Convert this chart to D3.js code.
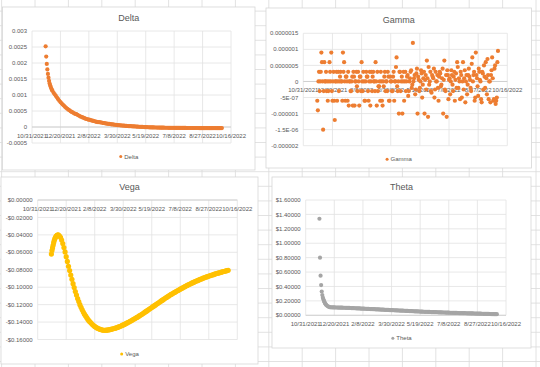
<!DOCTYPE html>
<html>
<head>
<meta charset="utf-8">
<script src="https://cdn.jsdelivr.net/npm/d3@7"></script>
<style>
  body { margin: 0; background: #fff; }
  svg { display: block; }
  text { font-family: "Liberation Sans", Arial, sans-serif; fill: #595959; }
</style>
</head>
<body>
<svg id="sheet" width="540" height="367"></svg>
<script>
// first row of the sheet, the rest are day offsets from it
const startDate = "11/24/2021";
const days = [
  0, 1, 2, 3, 4, 5, 6, 7, 8, 9, 10, 11,
  12, 14, 16, 18, 20, 22, 24, 26, 28, 30,
  32, 34, 36, 38, 40, 42, 44, 46, 48, 50,
  52, 54, 56, 58, 60, 62, 64, 66, 68, 70,
  72, 74, 76, 78, 80, 82, 84, 86, 88, 90,
  92, 94, 96, 98, 100, 102, 104, 106, 108, 110,
  112, 114, 116, 118, 120, 122, 124, 126, 128, 130,
  132, 134, 136, 138, 140, 142, 144, 146, 148, 150,
  152, 154, 156, 158, 160, 162, 164, 166, 168, 170,
  172, 174, 176, 178, 180, 182, 184, 186, 188, 190,
  192, 194, 196, 198, 200, 202, 204, 206, 208, 210,
  212, 214, 216, 218, 220, 222, 224, 226, 228, 230,
  232, 234, 236, 238, 240, 242, 244, 246, 248, 250,
  252, 254, 256, 258, 260, 262, 264, 266, 268, 270,
  272, 274, 276, 278, 280, 282, 284, 286, 288, 290,
  292, 294, 296, 298, 300, 302, 304, 306, 308, 310
];

const deltaValues = [
  0.00252, 0.00220, 0.00197, 0.00180, 0.00166, 0.00154, 0.00144, 0.00136, 0.00130, 0.00125, 0.00120, 0.00116,
  0.00113, 0.00107, 0.00102, 0.00097, 0.00092, 0.00087, 0.00082, 0.00078, 0.00074, 0.00070,
  0.00067, 0.00063, 0.00060, 0.00057, 0.00054, 0.00052, 0.00049, 0.00047, 0.00045, 0.00043,
  0.00041, 0.00040, 0.00038, 0.00036, 0.00034, 0.00032, 0.00031, 0.00029, 0.00028, 0.00026,
  0.00025, 0.00024, 0.00023, 0.00022, 0.00021, 0.00020, 0.00019, 0.00018, 0.00017, 0.00016,
  0.000155, 0.00015, 0.000145, 0.00014, 0.00013, 0.000125, 0.00012, 0.00011, 0.000105, 0.0001,
  0.000095, 0.00009, 0.000085, 0.00008, 0.000075, 0.00007, 0.000065, 0.00006, 0.000057, 0.000054,
  0.00005, 0.000047, 0.000044, 0.000041, 0.000038, 0.000035, 0.000032, 0.00003, 0.000027, 0.000025,
  0.000022, 0.00002, 0.000018, 0.000015, 0.000013, 0.00001, 0.000008, 0.000006, 0.000004, 0.000002,
  0, -0.000002, -0.000004, -0.000006, -0.000008, -0.00001, -0.000011, -0.000012, -0.000013, -0.000014,
  -0.000015, -0.000016, -0.000017, -0.000018, -0.000019, -0.00002, -0.000021, -0.000022, -0.000022, -0.000023,
  -0.000024, -0.000024, -0.000025, -0.000025, -0.000026, -0.000026, -0.000027, -0.000027, -0.000028, -0.000028,
  -0.000028, -0.000029, -0.000029, -0.000029, -0.00003, -0.00003, -0.00003, -0.00003, -0.000031, -0.000031,
  -0.000031, -0.000031, -0.000031, -0.000032, -0.000032, -0.000032, -0.000032, -0.000032, -0.000032, -0.000033,
  -0.000033, -0.000033, -0.000033, -0.000033, -0.000033, -0.000033, -0.000034, -0.000034, -0.000034, -0.000034,
  -0.000034, -0.000034, -0.000034, -0.000034, -0.000034, -0.000035, -0.000035, -0.000035, -0.000035, -0.000035
];

const gammaValues = [
  -6e-7, -9e-7, 0, 3e-7, -3e-7, 0, 3e-7, 9e-7, 6e-7, 0, -1.5e-6, -3e-7,
  6e-7, 0, -3e-7, -6e-7, 0, 3e-7, 9e-7, -6e-7, 3e-7, -1.2e-6,
  0, -6e-7, 3e-7, 0, 3e-7, 0, 9e-7, 6e-7, -6e-7, 1.5e-7,
  -6e-7, -7.5e-7, 0, -3e-7, 1.5e-7, 3e-7, -7.5e-7, 0, -1.5e-7, 3e-7,
  -7.5e-7, 1.5e-7, 6e-7, -3e-7, 0, -6e-7, 3e-7, 1.5e-7, -6e-7, 3e-7,
  0, -3e-7, 3e-7, 0, 6e-7, -7.5e-7, -3e-7, -1.5e-7, -6e-7, 0,
  -7.5e-7, -1.5e-7, 3e-7, 0, -3e-7, 1.5e-7, -6e-7, 0, -3e-7, 1.5e-7,
  -6e-7, 0, 7.5e-7, -3e-7, -1e-6, 3e-7, 0, -1e-6, 3e-7, 0,
  -3e-7, 1.5e-7, -4.5e-7, 0, 3e-7, -2e-7, 1.2e-6, 1e-7, -4e-7, 2.5e-7,
  -1e-6, 0.5e-7, -2e-7, 3.5e-7, -5e-7, 1e-7, -1e-6, 2e-7, 6.5e-7, -1.1e-6,
  -1e-7, 3e-7, -3.5e-7, 1.5e-7, 4e-7, -2.5e-7, 0, 2e-7, -6e-7, 3e-7,
  -1.5e-7, 1e-7, -1e-6, 6.5e-7, -3e-7, -1.1e-6, 2e-7, 0.5e-7, -4e-7, 3.5e-7,
  -1e-7, 1.5e-7, -6e-7, 2.5e-7, 6e-7, -2e-7, 0, 3e-7, -5e-7, 6e-7,
  1e-7, -6.5e-7, 2e-7, -1e-7, 4e-7, 0.5e-7, -3e-7, 7.5e-7, 2e-7, -6e-7,
  9e-7, 1e-7, -4.5e-7, 3e-7, 0, -6.5e-7, 2.5e-7, 5e-7, -2e-7, 1e-7,
  7e-7, -5.5e-7, 0, 2e-7, 7.5e-7, -6e-7, 4e-7, -7e-7, -5e-7, 9.5e-7
];

// gamma is also read on the days in between
const gammaOddDays = [
  13, 15, 17, 19, 21, 23, 25, 27, 29, 31,
  33, 35, 37, 39, 41, 43, 45, 47, 49, 51,
  53, 55, 57, 59, 61, 63, 65, 67, 69, 71,
  73, 75, 77, 79, 81, 83, 85, 87, 89, 91,
  93, 95, 97, 99, 101, 103, 105, 107, 109, 111,
  113, 115, 117, 119, 121, 123, 125, 127, 129, 131,
  133, 135, 137, 139, 141, 143, 145, 147, 149, 151,
  153, 155, 157, 159, 161, 163, 165, 167, 169, 171,
  173, 175, 177, 179, 181, 183, 185, 187, 189, 191,
  193, 195, 197, 199, 201, 203, 205, 207, 209, 211,
  213, 215, 217, 219, 221, 223, 225, 227, 229, 231,
  233, 235, 237, 239, 241, 243, 245, 247, 249, 251,
  253, 255, 257, 259, 261, 263, 265, 267, 269, 271,
  273, 275, 277, 279, 281, 283, 285, 287, 289, 291,
  293, 295, 297, 299, 301, 303, 305, 307, 309
];
const gammaOddValues = [
  0, 3e-7, 0, -3e-7, 6e-7, 0, -3e-7, 0, -6e-7, 0,
  3e-7, 0, -3e-7, 1.5e-7, 0, -6e-7, 3e-7, 0, 1.5e-7, 0,
  3e-7, 0, -3e-7, 0, -7.5e-7, 1.5e-7, 0, 3e-7, -3e-7, 0,
  1.5e-7, -3e-7, 0, 3e-7, -6e-7, 0, 1.5e-7, -3e-7, 0, -7.5e-7,
  3e-7, 1.5e-7, 0, -3e-7, 0, 3e-7, -1.5e-7, 0, 3e-7, -6e-7,
  0, 1.5e-7, -3e-7, 0, 3e-7, -6e-7, 1.5e-7, 0, -3e-7, 3e-7,
  0, 4.5e-7, -1.5e-7, 0, 3e-7, -3e-7, 1.5e-7, 0, -6e-7, 3e-7,
  0, 2e-7, -3e-7, 1e-7, 3.5e-7, -1e-7, 0, 2e-7, -2.5e-7, 4e-7,
  1.5e-7, -3e-7, 0, 2.5e-7, -1e-7, 3e-7, 0.5e-7, -2.5e-7, 1e-7, 4.5e-7,
  0, -3e-7, 2e-7, 1e-7, -5e-7, 3e-7, 0, -2e-7, 1.5e-7, 2.5e-7,
  -1e-7, 4e-7, 0.5e-7, -2.5e-7, 2e-7, 3.5e-7, -5.5e-7, 1e-7, 0, 2e-7,
  -3e-7, 3e-7, 0.5e-7, -2e-7, 4.5e-7, 1e-7, -5.5e-7, 2e-7, 0, -2.5e-7,
  3.5e-7, 0, -4e-7, 2e-7, 1.5e-7, -2e-7, 5.5e-7, 0, 3e-7, -5e-7,
  2e-7, -1.5e-7, 4e-7, 0.5e-7, -5.5e-7, 3e-7, -2.5e-7, 1.5e-7, 6e-7, -4e-7,
  2e-7, 0, -6.5e-7, 3.5e-7, 1e-7, -5.5e-7, 5e-7, -6e-7, 6e-7
];

const vegaValues = [
  -0.062, -0.058, -0.055, -0.052, -0.049, -0.0465, -0.0445, -0.043, -0.042, -0.041, -0.0405, -0.0402,
  -0.0401, -0.041, -0.0428, -0.046, -0.050, -0.0545, -0.0595, -0.065, -0.0705, -0.076,
  -0.081, -0.086, -0.091, -0.096, -0.1005, -0.105, -0.109, -0.113, -0.1165, -0.120,
  -0.123, -0.126, -0.1285, -0.131, -0.133, -0.135, -0.137, -0.1387, -0.140, -0.1415,
  -0.1428, -0.144, -0.145, -0.146, -0.1467, -0.1474, -0.148, -0.1485, -0.1489, -0.1492,
  -0.1494, -0.1494, -0.1493, -0.1492, -0.1490, -0.1487, -0.1484, -0.1481, -0.1478, -0.1474,
  -0.1470, -0.1466, -0.1461, -0.1456, -0.1451, -0.1445, -0.1439, -0.1433, -0.1427, -0.1420,
  -0.1413, -0.1406, -0.1399, -0.1392, -0.1385, -0.1377, -0.1369, -0.1362, -0.1354, -0.1347,
  -0.1339, -0.1330, -0.1322, -0.1313, -0.1305, -0.1296, -0.1287, -0.1278, -0.1269, -0.1260,
  -0.1251, -0.1242, -0.1233, -0.1224, -0.1215, -0.1206, -0.1197, -0.1188, -0.1179, -0.1170,
  -0.1161, -0.1152, -0.1143, -0.1134, -0.1125, -0.1117, -0.1108, -0.1100, -0.1091, -0.1083,
  -0.1075, -0.1068, -0.1060, -0.1053, -0.1045, -0.1038, -0.1030, -0.1023, -0.1015, -0.1008,
  -0.1001, -0.0994, -0.0987, -0.0980, -0.0973, -0.0967, -0.0961, -0.0954, -0.0948, -0.0942,
  -0.0936, -0.0930, -0.0925, -0.0919, -0.0913, -0.0908, -0.0903, -0.0897, -0.0892, -0.0887,
  -0.0882, -0.0878, -0.0873, -0.0869, -0.0864, -0.0860, -0.0856, -0.0851, -0.0847, -0.0843,
  -0.0839, -0.0835, -0.0832, -0.0828, -0.0824, -0.0820, -0.0817, -0.0813, -0.0810, -0.0806
];

const thetaValues = [
  1.34, 0.80, 0.55, 0.42, 0.33, 0.28, 0.245, 0.22, 0.20, 0.18, 0.165, 0.152,
  0.142, 0.128, 0.119, 0.113, 0.111, 0.110, 0.1095, 0.109, 0.1085, 0.108,
  0.1075, 0.107, 0.1065, 0.106, 0.1055, 0.105, 0.1045, 0.104, 0.1035, 0.103,
  0.102, 0.1012, 0.1004, 0.0996, 0.0988, 0.098, 0.0972, 0.0964, 0.0956, 0.0948,
  0.094, 0.0932, 0.0924, 0.0916, 0.0908, 0.09, 0.0892, 0.0884, 0.0876, 0.0868,
  0.086, 0.0852, 0.0844, 0.0836, 0.0828, 0.0819, 0.081, 0.0801, 0.0792, 0.0783,
  0.0774, 0.0765, 0.0756, 0.0748, 0.074, 0.0732, 0.0724, 0.0716, 0.0708, 0.07,
  0.0692, 0.0684, 0.0676, 0.0668, 0.066, 0.0652, 0.0644, 0.0636, 0.0628, 0.062,
  0.0612, 0.0604, 0.0596, 0.0588, 0.058, 0.0572, 0.0564, 0.0556, 0.0548, 0.054,
  0.0532, 0.0524, 0.0516, 0.0508, 0.05, 0.0494, 0.0488, 0.0482, 0.0476, 0.047,
  0.0464, 0.0458, 0.0452, 0.0446, 0.044, 0.0434, 0.0428, 0.0422, 0.0416, 0.041,
  0.0404, 0.0398, 0.0392, 0.0386, 0.038, 0.0374, 0.0368, 0.0362, 0.0356, 0.035,
  0.0345, 0.034, 0.0335, 0.033, 0.0325, 0.032, 0.0315, 0.031, 0.0305, 0.03,
  0.0295, 0.029, 0.0285, 0.028, 0.0275, 0.027, 0.0265, 0.026, 0.0255, 0.025,
  0.0245, 0.024, 0.0235, 0.023, 0.0225, 0.022, 0.0215, 0.021, 0.0205, 0.02,
  0.0195, 0.019, 0.0185, 0.018, 0.0175, 0.017, 0.0165, 0.016, 0.0155, 0.015
];

// axis ticks, as Excel prints them
const dateTicks = ["10/31/2021", "12/20/2021", "2/8/2022", "3/30/2022", "5/19/2022", "7/8/2022", "8/27/2022", "10/16/2022"];
const deltaTicks = [-0.0005, 0, 0.0005, 0.001, 0.0015, 0.002, 0.0025, 0.003];
const deltaTickLabels = ["-0.0005", "0", "0.0005", "0.001", "0.0015", "0.002", "0.0025", "0.003"];
const gammaTicks = [-0.000002, -0.0000015, -0.000001, -0.0000005, 0, 0.0000005, 0.000001, 0.0000015];
const gammaTickLabels = ["-0.000002", "-1.5E-06", "-0.000001", "-5E-07", "0", "0.0000005", "0.000001", "0.0000015"];
const vegaTicks = [-0.16, -0.14, -0.12, -0.10, -0.08, -0.06, -0.04, -0.02, 0];
const vegaTickLabels = ["-$0.16000", "-$0.14000", "-$0.12000", "-$0.10000", "-$0.08000", "-$0.06000", "-$0.04000", "-$0.02000", "$0.00000"];
const thetaTicks = [0, 0.2, 0.4, 0.6, 0.8, 1.0, 1.2, 1.4, 1.6];
const thetaTickLabels = ["$0.00000", "$0.20000", "$0.40000", "$0.60000", "$0.80000", "$1.00000", "$1.20000", "$1.40000", "$1.60000"];

const parseDate = d3.timeParse("%m/%d/%Y");
const firstDate = parseDate(startDate);
const toDates = arr => arr.map(d => d3.timeDay.offset(firstDate, d));
const dates = toDates(days);
const tickDates = dateTicks.map(parseDate);

const svg = d3.select("#sheet");

// excel sheet cell grid behind the charts
const sheet = svg.append("g");
for (let x = 1.6; x < 540; x += 33.4) {
  sheet.append("line").attr("x1", x).attr("x2", x).attr("y1", 0).attr("y2", 367)
    .attr("stroke", "#dadada").attr("stroke-width", 0.8);
}
for (let y = -3.5; y < 367; y += 14.6) {
  sheet.append("line").attr("x1", 0).attr("x2", 540).attr("y1", y).attr("y2", y)
    .attr("stroke", "#dadada").attr("stroke-width", 0.8);
}

const charts = [
  { title: "Delta", series: [[dates, deltaValues]], ticks: deltaTicks, labels: deltaTickLabels,
    color: "#ED7D31", r: 2.1, box: [2.5, 7, 252.5, 163], plot: [32, 231, 31, 143], titleY: 17.5, legendY: 156.5 },
  { title: "Gamma", series: [[dates, gammaValues], [toDates(gammaOddDays), gammaOddValues]],
    ticks: gammaTicks, labels: gammaTickLabels,
    color: "#ED7D31", r: 2.1, box: [266, 8, 265.5, 160], plot: [303.3, 507.3, 33.3, 145.7], titleY: 19.5, legendY: 159.3 },
  { title: "Vega", series: [[dates, vegaValues]], ticks: vegaTicks, labels: vegaTickLabels,
    color: "#FFC000", r: 2.6, box: [1, 177, 257, 187], plot: [37.7, 237.3, 200, 339.5], titleY: 187, legendY: 354 },
  { title: "Theta", series: [[dates, thetaValues]], ticks: thetaTicks, labels: thetaTickLabels,
    color: "#A5A5A5", r: 2.1, box: [272, 177, 259, 171], plot: [305.7, 506, 200, 315.3], titleY: 186.7, legendY: 338.3 }
];

charts.forEach(drawChart);

function drawChart(c) {
  const [bx, by, bw, bh] = c.box;
  const [left, right, top, bottom] = c.plot;
  const g = svg.append("g");

  g.append("rect").attr("x", bx).attr("y", by).attr("width", bw).attr("height", bh)
    .attr("fill", "#fff").attr("stroke", "#d6d6d6").attr("stroke-width", 0.8);

  const x = d3.scaleTime().domain([tickDates[0], tickDates[tickDates.length - 1]]).range([left, right]);
  const y = d3.scaleLinear().domain(d3.extent(c.ticks)).range([bottom, top]);

  // gridlines
  g.selectAll(".hg").data(c.ticks).join("line")
    .attr("x1", left).attr("x2", right)
    .attr("y1", d => y(d)).attr("y2", d => y(d))
    .attr("stroke", "#e2e2e2").attr("stroke-width", 0.8);
  g.selectAll(".vg").data(tickDates).join("line")
    .attr("x1", d => x(d)).attr("x2", d => x(d))
    .attr("y1", top).attr("y2", bottom)
    .attr("stroke", "#e2e2e2").attr("stroke-width", 0.8);

  // horizontal value axis crosses at zero
  const y0 = y(0);
  g.append("line").attr("x1", left).attr("x2", right).attr("y1", y0).attr("y2", y0)
    .attr("stroke", "#c9c9c9").attr("stroke-width", 0.8);

  g.selectAll(".yl").data(c.ticks).join("text")
    .attr("x", left - 5).attr("y", d => y(d)).attr("dy", "0.35em")
    .attr("text-anchor", "end").attr("font-size", 6)
    .text((d, i) => c.labels[i]);

  g.selectAll(".xl").data(tickDates).join("text")
    .attr("x", d => x(d)).attr("y", y0 + 11)
    .attr("text-anchor", "middle").attr("font-size", 6)
    .text((d, i) => dateTicks[i]);

  c.series.forEach(([ds, vs]) => {
    g.append("g").selectAll("circle").data(vs).join("circle")
      .attr("cx", (d, i) => x(ds[i]))
      .attr("cy", d => y(d))
      .attr("r", c.r)
      .attr("fill", c.color);
  });

  const cx = bx + bw / 2;
  g.append("text").attr("x", cx).attr("y", c.titleY + 3.3)
    .attr("text-anchor", "middle").attr("font-size", 9).text(c.title);

  const lt = g.append("text").attr("y", c.legendY + 2).attr("font-size", 6).text(c.title);
  const tw = lt.node().getComputedTextLength();
  const start = cx - (tw + 5) / 2;
  lt.attr("x", start + 5);
  g.append("circle").attr("cx", start + 1.5).attr("cy", c.legendY).attr("r", 1.5).attr("fill", c.color);
}
</script>
</body>
</html>
